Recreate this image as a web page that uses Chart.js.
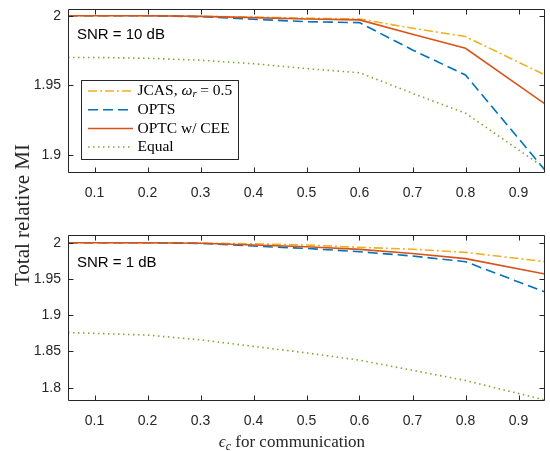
<!DOCTYPE html>
<html>
<head>
<meta charset="utf-8">
<script src="https://cdn.jsdelivr.net/npm/chart.js@4.4.1/dist/chart.umd.min.js"></script>
<style>
  html, body { margin: 0; padding: 0; background: #fff; }
  #wrap { position: relative; width: 550px; height: 451px; background: #fff; overflow: hidden; }
  canvas { position: absolute; left: 0; }
  #ylab {
    position: absolute; width: 300px; left: -128px; top: 203px; height: 24px; line-height: 24px;
    text-align: center; transform: rotate(-90deg); transform-origin: 150px 12px;
    font-family: "Liberation Serif", "DejaVu Serif", serif; font-size: 21px; color: #262626;
  }
  #xlab {
    position: absolute; left: 142px; width: 300px; top: 431px; height: 22px; line-height: 22px;
    text-align: center;
    font-family: "Liberation Serif", "DejaVu Serif", serif; font-size: 17px; color: #262626;
  }
  #xlab sub { font-size: 12px; vertical-align: -3px; line-height: 0; font-style: italic; }
</style>
</head>
<body>
<div id="wrap">
  <canvas id="c10" width="550" height="200" style="top:0"></canvas>
  <canvas id="c1" width="550" height="236" style="top:215px"></canvas>
  <div id="ylab">Total relative MI</div>
  <div id="xlab"><i>ϵ</i><sub>c</sub> for communication</div>
</div>
<script>
// ε_c values shared by both panels
const epsC = [0.05, 0.1, 0.2, 0.3, 0.4, 0.5, 0.6, 0.7, 0.8, 0.95];

// SNR = 10 dB
const jcas10  = [2.0, 2.0, 2.0, 1.9996, 1.9990, 1.9982, 1.9976, 1.9910, 1.9850, 1.9574];
const opts10  = [2.0, 2.0, 2.0, 1.9993, 1.9974, 1.9957, 1.9950, 1.9754, 1.9574, 1.8890];
const optc10  = [2.0, 2.0, 2.0, 1.9995, 1.9986, 1.9976, 1.9970, 1.9866, 1.9766, 1.9366];
const equal10 = [1.9700, 1.9700, 1.9694, 1.9680, 1.9655, 1.9620, 1.9590, 1.9443, 1.9300, 1.8905];

// SNR = 1 dB
const jcas1  = [2.0, 2.0, 2.0, 1.9995, 1.9985, 1.9968, 1.9936, 1.9910, 1.9867, 1.9738];
const opts1  = [2.0, 2.0, 2.0, 1.9990, 1.9954, 1.9920, 1.9876, 1.9816, 1.9738, 1.9320];
const optc1  = [2.0, 2.0, 2.0, 1.9993, 1.9968, 1.9945, 1.9908, 1.9850, 1.9780, 1.9568];
const equal1 = [1.8760, 1.8750, 1.8726, 1.8660, 1.8570, 1.8480, 1.8380, 1.8240, 1.8100, 1.7830];

const xTicks = [0.1, 0.2, 0.3, 0.4, 0.5, 0.6, 0.7, 0.8, 0.9];
const xTickLabels = ['0.1', '0.2', '0.3', '0.4', '0.5', '0.6', '0.7', '0.8', '0.9'];
const yTicks10 = [1.9, 1.95, 2];
const yTickLabels10 = ['1.9', '1.95', '2'];
const yTicks1 = [1.8, 1.85, 1.9, 1.95, 2];
const yTickLabels1 = ['1.8', '1.85', '1.9', '1.95', '2'];

const seriesNames = ['JCAS', 'OPTS', 'OPTC w/ CEE', 'Equal'];

const AXIS_COLOR = '#262626';
const SANS = '"Liberation Sans", Arial, Helvetica, sans-serif';
const SERIF = '"Liberation Serif", "DejaVu Serif", serif';

const styles = [
  { color: '#EDB120', dash: [9, 3, 2, 3], order: 3 },
  { color: '#0072BD', dash: [10, 5], order: 2 },
  { color: '#D95319', dash: [], order: 1 },
  { color: '#77AC30', dash: [1.5, 3.5], order: 0 }
];

function toPoints(ys) { return ys.map((y, i) => ({ x: epsC[i], y })); }

// Box around the axes with inward tick marks on all four sides
const framePlugin = {
  id: 'frame',
  afterDatasetsDraw(chart) {
    const { ctx, chartArea: a, scales } = chart;
    ctx.save();
    ctx.strokeStyle = AXIS_COLOR;
    ctx.lineWidth = 1;
    ctx.setLineDash([]);
    ctx.beginPath();
    const L = Math.round(a.left) + 0.5, R = Math.round(a.right) - 0.5;
    const T = Math.round(a.top) + 0.5, B = Math.round(a.bottom) - 0.5;
    ctx.rect(L, T, R - L, B - T);
    const tl = 5;
    scales.x.ticks.forEach(t => {
      const px = Math.round(scales.x.getPixelForValue(t.value)) + 0.5;
      ctx.moveTo(px, B); ctx.lineTo(px, B - tl);
      ctx.moveTo(px, T); ctx.lineTo(px, T + tl);
    });
    scales.y.ticks.forEach(t => {
      const py = Math.round(scales.y.getPixelForValue(t.value)) + 0.5;
      ctx.moveTo(L, py); ctx.lineTo(L + tl, py);
      ctx.moveTo(R, py); ctx.lineTo(R - tl, py);
    });
    ctx.stroke();
    ctx.restore();
  }
};

// Panel caption (SNR) in the upper-left corner of the axes
const captionPlugin = {
  id: 'caption',
  afterDraw(chart, args, opts) {
    const { ctx, chartArea: a } = chart;
    ctx.save();
    ctx.font = '15px ' + SANS;
    ctx.fillStyle = '#000';
    ctx.textAlign = 'left';
    ctx.textBaseline = 'middle';
    ctx.fillText(opts.text, a.left + 9, a.top + opts.dy);
    ctx.restore();
  }
};

// Legend box with line samples; first entry uses a subscripted symbol
const legendPlugin = {
  id: 'mathLegend',
  afterDraw(chart, args, opts) {
    if (!opts.show) return;
    const { ctx, chartArea: a } = chart;
    const bx = Math.round(a.left + 13) + 0.5, by = Math.round(a.top + 71) + 0.5;
    const bw = 157, bh = 79;
    ctx.save();
    ctx.fillStyle = '#fff';
    ctx.fillRect(bx, by, bw, bh);
    ctx.strokeStyle = AXIS_COLOR;
    ctx.lineWidth = 1;
    ctx.setLineDash([]);
    ctx.strokeRect(bx, by, bw, bh);
    const ds = chart.data.datasets;
    const rowY = [10.5, 29.3, 48, 66.5];
    ds.forEach((d, i) => {
      const y = by + rowY[i];
      ctx.strokeStyle = d.borderColor;
      ctx.lineWidth = d.borderWidth;
      ctx.setLineDash(d.borderDash || []);
      ctx.beginPath();
      ctx.moveTo(bx + 6.5, y);
      ctx.lineTo(bx + 51.5, y);
      ctx.stroke();
      ctx.setLineDash([]);
      ctx.fillStyle = '#000';
      ctx.textBaseline = 'middle';
      ctx.textAlign = 'left';
      let tx = bx + 56;
      if (i === 0) {
        ctx.font = '15.5px ' + SERIF;
        ctx.fillText('JCAS, ', tx, y);
        tx += ctx.measureText('JCAS, ').width;
        ctx.font = 'italic 15.5px ' + SERIF;
        ctx.fillText('ω', tx, y);
        tx += ctx.measureText('ω').width;
        ctx.font = 'italic 11px ' + SERIF;
        ctx.fillText('r', tx, y + 3.5);
        tx += ctx.measureText('r').width + 3.5;
        ctx.font = '15.5px ' + SERIF;
        ctx.fillText('= 0.5', tx, y);
      } else {
        ctx.font = '15.5px ' + SERIF;
        ctx.fillText(d.label, tx, y);
      }
    });
    ctx.restore();
  }
};

function buildPanel(id, seriesList, yMin, yMax, yTicks, yLabels, cfg) {
  const ctx = document.getElementById(id).getContext('2d');
  return new Chart(ctx, {
    type: 'line',
    data: {
      datasets: seriesList.map((ys, i) => ({
        label: seriesNames[i],
        data: toPoints(ys),
        borderColor: styles[i].color,
        borderDash: styles[i].dash,
        borderWidth: 1.6,
        pointRadius: 0,
        tension: 0,
        fill: false,
        order: styles[i].order
      }))
    },
    options: {
      responsive: false,
      animation: false,
      layout: { padding: { top: cfg.padTop, right: 5, left: 0, bottom: 0 } },
      plugins: {
        legend: { display: false },
        tooltip: { enabled: false },
        caption: { text: cfg.caption, dy: cfg.captionDy },
        mathLegend: { show: cfg.legend }
      },
      scales: {
        x: {
          type: 'linear', min: 0.05, max: 0.95,
          grid: { display: false, drawTicks: false },
          border: { display: false },
          afterBuildTicks: s => { s.ticks = xTicks.map(v => ({ value: v })); },
          afterFit: s => { s.height = cfg.xAxisH; s.paddingLeft = 0; s.paddingRight = 0; },
          ticks: {
            padding: cfg.xPad, color: AXIS_COLOR, maxRotation: 0, autoSkip: false,
            font: { family: SANS, size: 14 },
            callback: (v) => xTickLabels[xTicks.findIndex(t => Math.abs(t - v) < 1e-9)]
          }
        },
        y: {
          type: 'linear', min: yMin, max: yMax,
          grid: { display: false, drawTicks: false },
          border: { display: false },
          afterBuildTicks: s => { s.ticks = yTicks.map(v => ({ value: v })); },
          afterFit: s => { s.width = 68; s.paddingTop = 0; s.paddingBottom = 0; },
          ticks: {
            padding: 7, color: AXIS_COLOR, autoSkip: false,
            font: { family: SANS, size: 14 },
            callback: (v) => yLabels[yTicks.findIndex(t => Math.abs(t - v) < 1e-9)]
          }
        }
      }
    },
    plugins: [framePlugin, captionPlugin, legendPlugin]
  });
}

buildPanel('c10', [jcas10, opts10, optc10, equal10], 1.887, 2.0048, yTicks10, yTickLabels10,
  { padTop: 9, xAxisH: 27, xPad: 11.5, caption: 'SNR = 10 dB', captionDy: 26, legend: true });
buildPanel('c1', [jcas1, opts1, optc1, equal1], 1.7817, 2.0106, yTicks1, yTickLabels1,
  { padTop: 20, xAxisH: 50, xPad: 12, caption: 'SNR = 1 dB', captionDy: 28, legend: false });
</script>
</body>
</html>
